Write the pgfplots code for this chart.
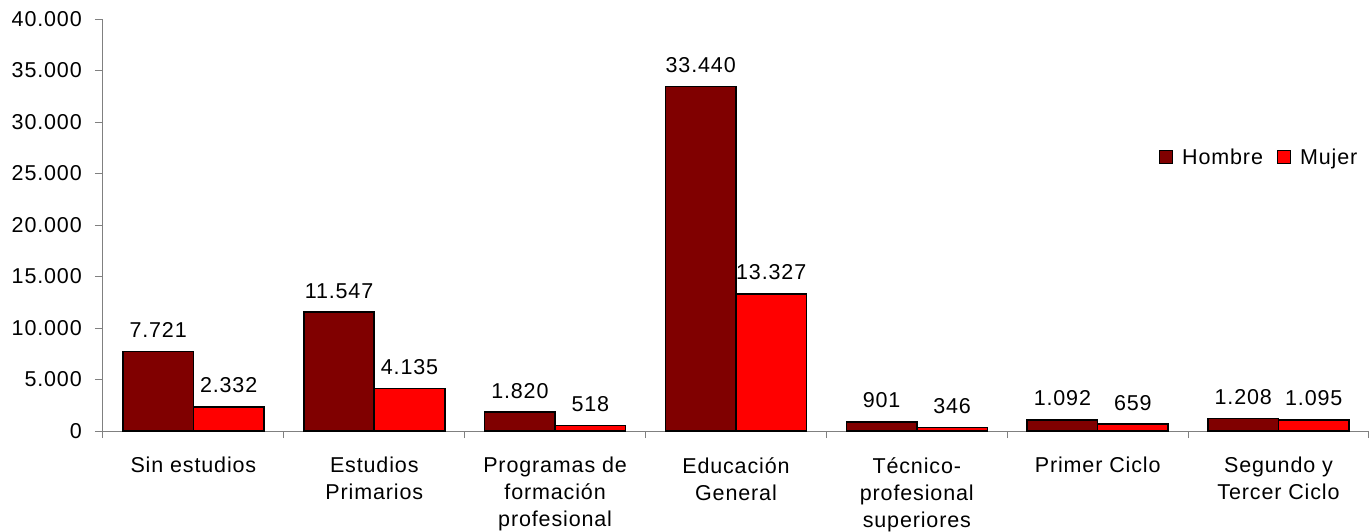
\documentclass[border=0pt]{standalone}
\usepackage{fontspec}
\setmainfont{Liberation Sans}[LetterSpace=4]
\usepackage{pgfplots}
\pgfplotsset{compat=1.18}
\definecolor{hombre}{HTML}{800000}
\definecolor{mujer}{HTML}{FF0000}
\definecolor{axisgray}{HTML}{808080}
\begin{document}
\begin{tikzpicture}[font=\fontsize{21.5}{27}\selectfont]
\begin{axis}[
  scale only axis, width=1266pt, height=412pt,
  xmin=-0.5, xmax=6.5, ymin=0, ymax=40000,
  axis x line*=bottom, axis y line*=left,
  axis line style={draw=axisgray, line width=1pt},
  ytick={0,5000,...,40000},
  scaled y ticks=false,
  /pgf/number format/1000 sep={.},
  /pgf/number format/assume math mode=true,
  ytick style={draw=axisgray, line width=1pt},
  ytick align=outside, major tick length=8pt,
  yticklabel style={anchor=east, inner sep=0pt, xshift=-13pt, font=\fontsize{21.5}{27}\selectfont},
  xtick={0,...,6},
  xticklabels={Sin estudios, Estudios\\Primarios, Programas de\\formación\\profesional, Educación\\General, Técnico-\\profesional\\superiores, Primer Ciclo, Segundo y\\Tercer Ciclo},
  xtick style={draw=none},
  xticklabel style={align=center, anchor=north, inner sep=0pt, yshift=-18pt, font=\fontsize{21.5}{27}\selectfont},
  extra x ticks={-0.5,0.5,1.5,2.5,3.5,4.5,5.5,6.5},
  extra x tick labels={},
  extra x tick style={xtick style={draw=axisgray, line width=1pt}, major tick length=7pt, xtick align=outside},
  ybar=0pt, bar width=70.5pt,
  nodes near coords,
  every node near coord/.append style={anchor=south, inner sep=0pt, yshift=13pt, black, font=\fontsize{21.5}{27}\selectfont},
  legend columns=2,
  legend image code/.code={\draw[#1, line width=1.2pt] (0pt,-6.5pt) rectangle (13pt,6.5pt);},
  legend style={draw=none, fill=none, inner sep=0pt, at={(rel axis cs:0.834,0.665)}, anchor=west,
    font=\fontsize{21.5}{27}\selectfont,
    nodes={inner sep=0pt},
    column sep=9pt,
    /tikz/every even column/.append style={column sep=14pt}},
]
\addplot[draw=black, line width=1.6pt, fill=hombre] coordinates {(0,7721) (1,11547) (2,1820) (3,33440) (4,901) (5,1092) (6,1208)};
\addlegendentry{Hombre}
\addplot[draw=black, line width=1.6pt, fill=mujer] coordinates {(0,2332) (1,4135) (2,518) (3,13327) (4,346) (5,659) (6,1095)};
\addlegendentry{Mujer}
\end{axis}
\pgfresetboundingbox
\path (-103pt,-100pt) rectangle (1269pt,431pt);
\end{tikzpicture}
\end{document}
